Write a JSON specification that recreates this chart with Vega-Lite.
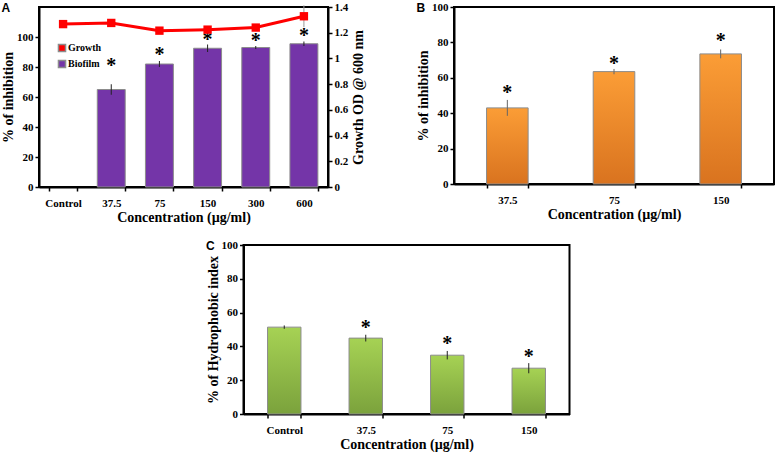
{
  "$schema": "https://vega.github.io/schema/vega-lite/v6.json",
  "background": "white",
  "padding": {"left": 0, "top": 0, "right": 0, "bottom": 0},
  "config": {
    "view": {"stroke": "black", "strokeWidth": 2},
    "font": "Liberation Serif",
    "axis": {
      "labelFont": "Liberation Serif", "labelFontWeight": "bold", "labelFontSize": 11, "labelColor": "black",
      "titleFont": "Liberation Serif", "titleFontWeight": "bold", "titleFontSize": 14, "titleColor": "black",
      "domainColor": "black", "domainWidth": 2, "tickColor": "black", "tickWidth": 1.5, "tickSize": 4, "grid": false,
      "labelPadding": 2, "titlePadding": 1, "labelOverlap": false
    },
    "axisX": {"labelAngle": 0, "labelPadding": 6, "titlePadding": 2},
    "title": {"font": "Liberation Sans", "fontSize": 12, "fontWeight": "bold", "color": "black", "anchor": "start", "frame": "bounds", "offset": -14}
  },
  "spacing": 13,
  "center": true,
  "vconcat": [
    {
      "spacing": 48,
      "hconcat": [
        {
          "title": {"text": "A"},
          "width": 289, "height": 180,
          "data": {"values": [
            {"cat": "Control", "pct": null, "pct_err": null, "star": null, "od": 1.267, "od_err": 0.008},
            {"cat": "37.5", "pct": 65, "pct_err": 3.5, "star": 81, "od": 1.276, "od_err": 0.008},
            {"cat": "75", "pct": 82, "pct_err": 2, "star": 88, "od": 1.216, "od_err": 0.006},
            {"cat": "150", "pct": 92.5, "pct_err": 2.5, "star": 98, "od": 1.224, "od_err": 0.006},
            {"cat": "300", "pct": 93, "pct_err": 1, "star": 97.5, "od": 1.24, "od_err": 0.006},
            {"cat": "600", "pct": 95.5, "pct_err": 1.5, "star": 100.5, "od": 1.328, "od_err": 0.085}
          ]},
          "encoding": {
            "x": {"field": "cat", "type": "nominal",
              "sort": ["Control", "37.5", "75", "150", "300", "600"],
              "scale": {"domain": ["Control", "37.5", "75", "150", "300", "600"], "paddingInner": 0.42, "paddingOuter": 0.21},
              "axis": {"title": "Concentration (µg/ml)", "tickBand": "extent"}}
          },
          "layer": [
            {
              "layer": [
                {
                  "mark": {"type": "bar", "stroke": "#8c8c8c", "strokeWidth": 1},
                  "encoding": {
                    "y": {"field": "pct", "type": "quantitative", "scale": {"domain": [0, 118.8]},
                      "axis": {"title": "% of inhibition", "values": [0, 20, 40, 60, 80, 100], "tickCount": 20}},
                    "color": {"datum": "Biofilm", "type": "nominal",
                      "scale": {"domain": ["Growth", "Biofilm"], "range": ["#ff0000", "#7435a8"]},
                      "legend": {"orient": "none", "legendX": 18, "legendY": 36, "title": null, "symbolType": "square", "symbolSize": 50,
                        "labelFont": "Liberation Serif", "labelFontWeight": "bold", "labelFontSize": 10, "labelColor": "black", "rowPadding": 2, "labelOffset": 1}}
                  }
                },
                {
                  "mark": {"type": "errorbar", "color": "#222222", "thickness": 1},
                  "encoding": {
                    "y": {"field": "pct", "type": "quantitative", "title": "% of inhibition"},
                    "yError": {"field": "pct_err"}
                  }
                },
                {
                  "mark": {"type": "text", "text": "*", "font": "Liberation Serif", "fontSize": 20, "fontWeight": "bold", "baseline": "middle", "dy": 0, "color": "black"},
                  "encoding": {
                    "y": {"field": "star", "type": "quantitative", "title": "% of inhibition"}
                  }
                }
              ]
            },
            {
              "layer": [
                {
                  "mark": {"type": "errorbar", "color": "#999999", "thickness": 1},
                  "encoding": {
                    "y": {"field": "od", "type": "quantitative", "title": "Growth OD @ 600 nm"},
                    "yError": {"field": "od_err"}
                  }
                },
                {
                  "mark": {"type": "line", "color": "#ff0000", "strokeWidth": 3},
                  "encoding": {
                    "y": {"field": "od", "type": "quantitative", "scale": {"domain": [0, 1.4]},
                      "axis": {"orient": "right", "title": "Growth OD @ 600 nm", "values": [0, 0.2, 0.4, 0.6, 0.8, 1, 1.2, 1.4], "tickCount": 20, "format": "~g", "titleAngle": -90, "titleBaseline": "top", "titlePadding": 4}}
                  }
                },
                {
                  "mark": {"type": "point", "shape": "square", "filled": true, "size": 70, "opacity": 1},
                  "encoding": {
                    "y": {"field": "od", "type": "quantitative", "title": "Growth OD @ 600 nm"},
                    "color": {"datum": "Growth", "type": "nominal"}
                  }
                }
              ]
            }
          ],
          "resolve": {"scale": {"y": "independent"}}
        },
        {
          "title": {"text": "B"},
          "width": 320, "height": 177,
          "data": {"values": [
            {"cat": "37.5", "pct": 43, "pct_err": 4.5, "star": 52.6},
            {"cat": "75", "pct": 63.5, "pct_err": 1.5, "star": 69},
            {"cat": "150", "pct": 73.5, "pct_err": 2.5, "star": 82.2}
          ]},
          "encoding": {
            "x": {"field": "cat", "type": "nominal",
              "sort": ["37.5", "75", "150"],
              "scale": {"paddingInner": 0.61, "paddingOuter": 0.305},
              "axis": {"title": "Concentration (µg/ml)", "tickBand": "extent"}}
          },
          "layer": [
            {
              "mark": {"type": "bar", "stroke": "#8c8c8c", "strokeWidth": 1,
                "fill": {"gradient": "linear", "x1": 0, "y1": 0, "x2": 0, "y2": 1,
                  "stops": [{"offset": 0, "color": "#fb9d36"}, {"offset": 1, "color": "#d9731f"}]}},
              "encoding": {
                "y": {"field": "pct", "type": "quantitative", "scale": {"domain": [0, 100]},
                  "axis": {"title": "% of inhibition", "values": [0, 20, 40, 60, 80, 100], "tickCount": 20}}
              }
            },
            {
              "mark": {"type": "errorbar", "color": "#666666", "thickness": 1},
              "encoding": {
                "y": {"field": "pct", "type": "quantitative", "title": "% of inhibition"},
                "yError": {"field": "pct_err"}
              }
            },
            {
              "mark": {"type": "text", "text": "*", "font": "Liberation Serif", "fontSize": 20, "fontWeight": "bold", "baseline": "middle", "dy": 2, "color": "black"},
              "encoding": {
                "y": {"field": "star", "type": "quantitative", "title": "% of inhibition"}
              }
            }
          ]
        }
      ]
    },
    {
      "title": {"text": "C"},
      "width": 326, "height": 169,
      "data": {"values": [
        {"cat": "Control", "pct": 51.4, "pct_err": 1, "star": null},
        {"cat": "37.5", "pct": 44.9, "pct_err": 2, "star": 52.3},
        {"cat": "75", "pct": 34.8, "pct_err": 2.5, "star": 42.5},
        {"cat": "150", "pct": 27.1, "pct_err": 3, "star": 35.2}
      ]},
      "encoding": {
        "x": {"field": "cat", "type": "nominal",
          "sort": ["Control", "37.5", "75", "150"],
          "scale": {"paddingInner": 0.59, "paddingOuter": 0.295},
          "axis": {"title": "Concentration (µg/ml)", "tickBand": "extent"}}
      },
      "layer": [
        {
          "mark": {"type": "bar", "stroke": "#8c8c8c", "strokeWidth": 1,
            "fill": {"gradient": "linear", "x1": 0, "y1": 0, "x2": 0, "y2": 1,
              "stops": [{"offset": 0, "color": "#a6d254"}, {"offset": 1, "color": "#7ba23c"}]}},
          "encoding": {
            "y": {"field": "pct", "type": "quantitative", "scale": {"domain": [0, 100]},
              "axis": {"title": "% of Hydrophobic index", "values": [0, 20, 40, 60, 80, 100], "tickCount": 20}}
          }
        },
        {
          "mark": {"type": "errorbar", "color": "#222222", "thickness": 1},
          "encoding": {
            "y": {"field": "pct", "type": "quantitative", "title": "% of Hydrophobic index"},
            "yError": {"field": "pct_err"}
          }
        },
        {
          "mark": {"type": "text", "text": "*", "font": "Liberation Serif", "fontSize": 20, "fontWeight": "bold", "baseline": "middle", "dy": 2, "color": "black"},
          "encoding": {
            "y": {"field": "star", "type": "quantitative", "title": "% of Hydrophobic index"}
          }
        }
      ]
    }
  ]
}
